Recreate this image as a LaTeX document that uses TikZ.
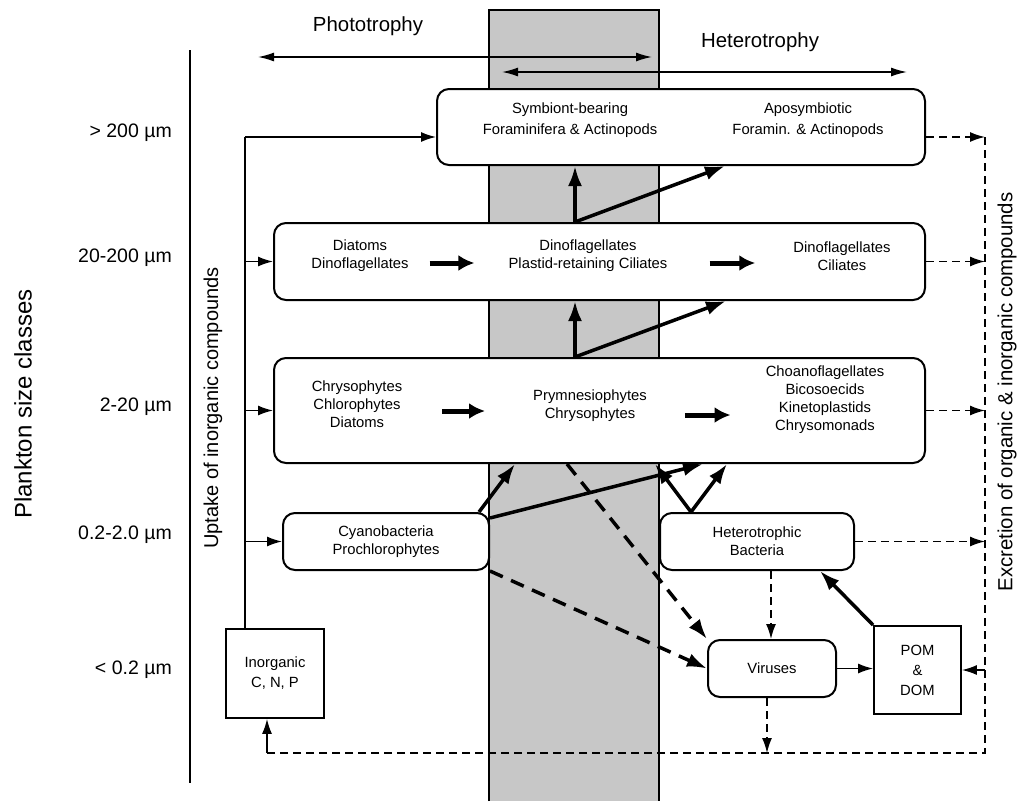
\documentclass[tikz,border=0pt]{standalone}
\usepackage{fontspec}
\setmainfont{Liberation Sans}
\usetikzlibrary{arrows.meta,calc,positioning}

\tikzset{
  box/.style={draw, line width=2pt, rounded corners=12pt, fill=white, inner sep=0pt},
  sqbox/.style={draw, line width=1.8pt, fill=white, inner sep=0pt, align=center,
    font=\fontsize{14.8}{20}\selectfont},
  txt/.style={align=center, inner sep=0pt, font=\fontsize{14.8}{18}\selectfont},
  thinarrow/.style={line width=1.5pt, -{Latex[length=15pt,width=10pt]}},
  heavy/.style={line width=3.5pt, -{Latex[length=20pt,width=14pt]}},
  heavydash/.style={heavy, dash pattern=on 14pt off 9pt},
  thindash/.style={thinarrow, dash pattern=on 8pt off 5pt},
  fat/.style={line width=5pt, -{Latex[length=16pt,width=16pt]}},
  twoway/.style={line width=1.5pt, {Latex[length=16pt,width=9pt]}-{Latex[length=16pt,width=9pt]}},
  sizelbl/.style={font=\fontsize{19.5}{22}\selectfont, anchor=east, inner sep=0pt},
}

\begin{document}
\begin{tikzpicture}[x=1pt,y=1pt,yscale=-1]
\useasboundingbox (0,0) rectangle (1020,801);

% mixotrophy band
\fill[black!22] (489,10) rectangle (659,801);
\draw[line width=1.5pt] (489,801) -- (489,10) -- (659,10) -- (659,801);

% trophy arrows
\coordinate (phL) at (258,57);
\coordinate (phR) at (652,57);
\coordinate (heL) at (502,72);
\coordinate (heR) at (907,72);
\draw[twoway] (phL) -- (phR);
\draw[twoway] (heL) -- (heR);
\node[font=\fontsize{20.4}{24}\selectfont] (photo) at (368,26) {Phototrophy};
\node[font=\fontsize{20.4}{24}\selectfont] (hetero) at (760,42) {Heterotrophy};

% size axis
\draw[line width=1.5pt] (190,50) -- (190,783);
\node[rotate=90, font=\fontsize{24}{28}\selectfont] (plankton) at (23,404) {Plankton size classes};
\node[sizelbl] (s1) at (172,133) {> 200 µm};
\node[sizelbl] (s2) at (172,258) {20-200 µm};
\node[sizelbl] (s3) at (172,407) {2-20 µm};
\node[sizelbl] (s4) at (172,535) {0.2-2.0 µm};
\node[sizelbl] (s5) at (172,670) {< 0.2 µm};

% boxes
\node[box, minimum width=488pt, minimum height=76pt] (box1) at (681,127) {};
\node[box, minimum width=651pt, minimum height=77pt] (box2) at (599.5,261.5) {};
\node[box, minimum width=651pt, minimum height=105pt] (box3) at (599.5,410.5) {};
\node[box, txt, minimum width=206pt, minimum height=57pt] (cyano) at (386,541.5) {Cyanobacteria\\Prochlorophytes};
\node[box, txt, minimum width=194pt, minimum height=57pt] (bact) at (757,541.5) {Heterotrophic\\Bacteria};
\node[box, txt, minimum width=128pt, minimum height=57pt] (virus) at (772,668.5) {Viruses};
\node[sqbox, minimum width=87pt, minimum height=88pt] (pom) at (917.5,670) {POM\\\&\\DOM};
\node[sqbox, minimum width=98pt, minimum height=89pt] (inorg) at (275,673.5) {Inorganic\\C, N, P};

% texts inside the long boxes
\node[txt, font=\fontsize{14.8}{21}\selectfont] (symb) at (570,120) {Symbiont-bearing\\Foraminifera \& Actinopods};
\node[txt, font=\fontsize{14.8}{21}\selectfont] (aposym) at (808,120) {Aposymbiotic\\Foramin. \& Actinopods};
\node[txt] (diat) at (360,256) {Diatoms\\Dinoflagellates};
\node[txt] (dinopl) at (588,256) {Dinoflagellates\\Plastid-retaining Ciliates};
\node[txt] (dinocil) at (842,256) {Dinoflagellates\\Ciliates};
\node[txt] (chrys) at (357,404) {Chrysophytes\\Chlorophytes\\Diatoms};
\node[txt] (prym) at (590,406) {Prymnesiophytes\\Chrysophytes};
\node[txt] (choa) at (825,400) {Choanoflagellates\\Bicosoecids\\Kinetoplastids\\Chrysomonads};

\draw[fat] ($(diat.east)+(21,7)$) -- ($(dinopl.west)+(-34,7)$);
\draw[fat] ($(dinopl.east)+(42,7)$) -- ($(dinocil.west)+(-38,7)$);
\draw[fat] ($(chrys.east)+(40,7)$) -- ($(prym.west)+(-48,5)$);
\draw[fat] ($(prym.east)+(38,9)$) -- ($(choa.west)+(-35,15)$);

% uptake of inorganic compounds
\node[rotate=90, font=\fontsize{20}{24}\selectfont] (uptake) at (213,408) {Uptake of inorganic compounds};
\coordinate (upTop) at (245,137);
\draw[line width=1.5pt] (inorg.north -| upTop) -- (upTop);
\draw[thinarrow] (upTop) -- (upTop -| box1.west);
\draw[thinarrow] (upTop |- box2.west) -- (box2.west);
\draw[thinarrow] (upTop |- box3.west) -- (box3.west);
\draw[thinarrow] (upTop |- cyano.west) -- (cyano.west);

% excretion
\node[rotate=90, font=\fontsize{20.4}{24}\selectfont] (excr) at (1007,392) {Excretion of organic \& inorganic compounds};
\coordinate (exTop) at (985,137);
\coordinate (exBot) at (985,753);
\coordinate (inRet) at (267,753);
\draw[line width=1.5pt, dash pattern=on 8pt off 5pt] (exTop) -- (exBot) -- (inRet);
\draw[thinarrow] (inRet) -- (inRet |- inorg.south);
\draw[thindash] (exTop -| box1.east) -- (exTop);
\draw[thindash] (box2.east) -- (box2.east -| exTop);
\draw[thindash] (box3.east) -- (box3.east -| exTop);
\draw[thindash] (bact.east) -- (bact.east -| exTop);
\draw[thindash] (pom.east -| exTop) -- (pom.east);

% flows between size classes
\draw[heavy] (box2.north -| 575,0) -- (box1.south -| 575,0);
\draw[heavy] (box2.north -| 575,0) -- (box1.south -| 725,0);
\draw[heavy] (box3.north -| 575,0) -- (box2.south -| 575,0);
\draw[heavy] (box3.north -| 575,0) -- (box2.south -| 726,0);
\draw[heavy] (cyano.north -| 479,0) -- (box3.south -| 515,0);
\draw[heavy] ($(cyano.north east)+(0,6)$) -- (box3.south -| 703,0);
\draw[heavy] (bact.north -| 691,0) -- (box3.south -| 655,0);
\draw[heavy] (bact.north -| 691,0) -- (box3.south -| 727,0);
\draw[heavydash] (box3.south -| 567,0) -- (virus.north west);
\draw[heavydash] (cyano.south east) -- (virus.west);
\draw[thindash] (bact.south -| 771,0) -- (virus.north -| 771,0);
\draw[thindash] (virus.south -| 767,0) -- (exBot -| 767,0);
\draw[thinarrow] (virus.east) -- (pom.west |- virus.east);
\draw[heavy] (pom.north west) -- (bact.south -| 820,0);

\end{tikzpicture}
\end{document}
